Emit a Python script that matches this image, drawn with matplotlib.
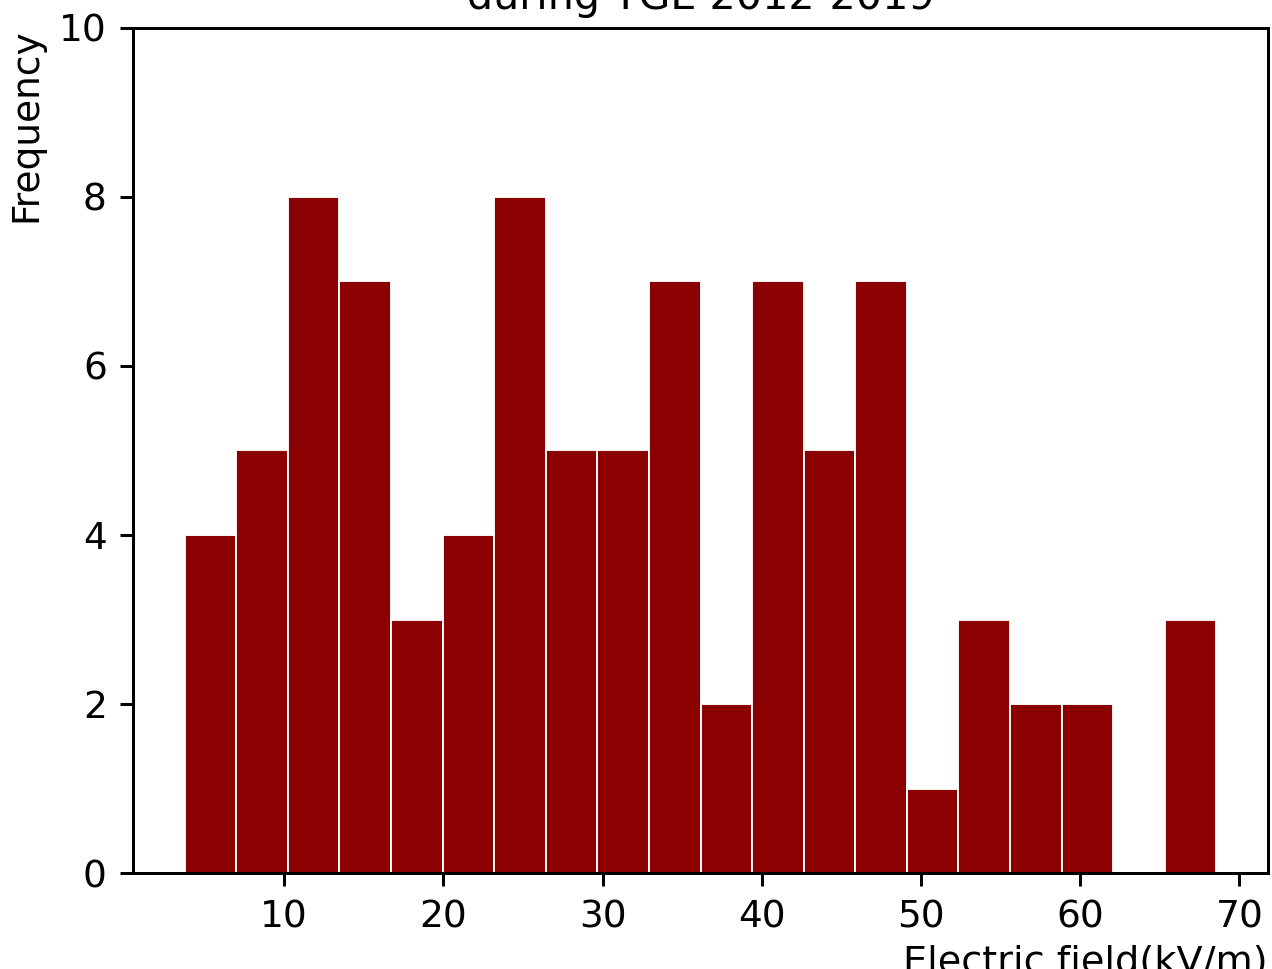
import matplotlib
matplotlib.use("Agg")
import matplotlib.pyplot as plt
import numpy as np

# Histogram data
field_min = 3.74     # kV/m, lowest edge
field_max = 68.56    # kV/m, highest edge
counts = [4, 5, 8, 7, 3, 4, 8, 5, 5, 7, 2, 7, 5, 7, 1, 3, 2, 2, 0, 3]
yticks = [0, 2, 4, 6, 8, 10]
title = "Distribution of electric field\nduring TGE 2012-2019"
xlabel = "Electric field(kV/m)"
ylabel = "Frequency"

DPI = 270
fig = plt.figure(figsize=(1272 / DPI, 969 / DPI), dpi=DPI)
ax = fig.add_axes([133 / 1272, 96 / 969, 1135 / 1272, 845 / 969])

edges = np.linspace(field_min, field_max, len(counts) + 1)
centers = 0.5 * (edges[:-1] + edges[1:])
ax.hist(centers, bins=edges, weights=counts, color="darkred",
        edgecolor="white", linewidth=0.5)

ax.set_ylim(0, 10)
ax.set_yticks(yticks)
ax.set_title(title, fontsize=11, pad=5)
ax.set_xlabel(xlabel, loc="right", fontsize=10.2, labelpad=2.5)
ax.set_ylabel(ylabel, loc="top")

fig.savefig("out.png", dpi=DPI)
